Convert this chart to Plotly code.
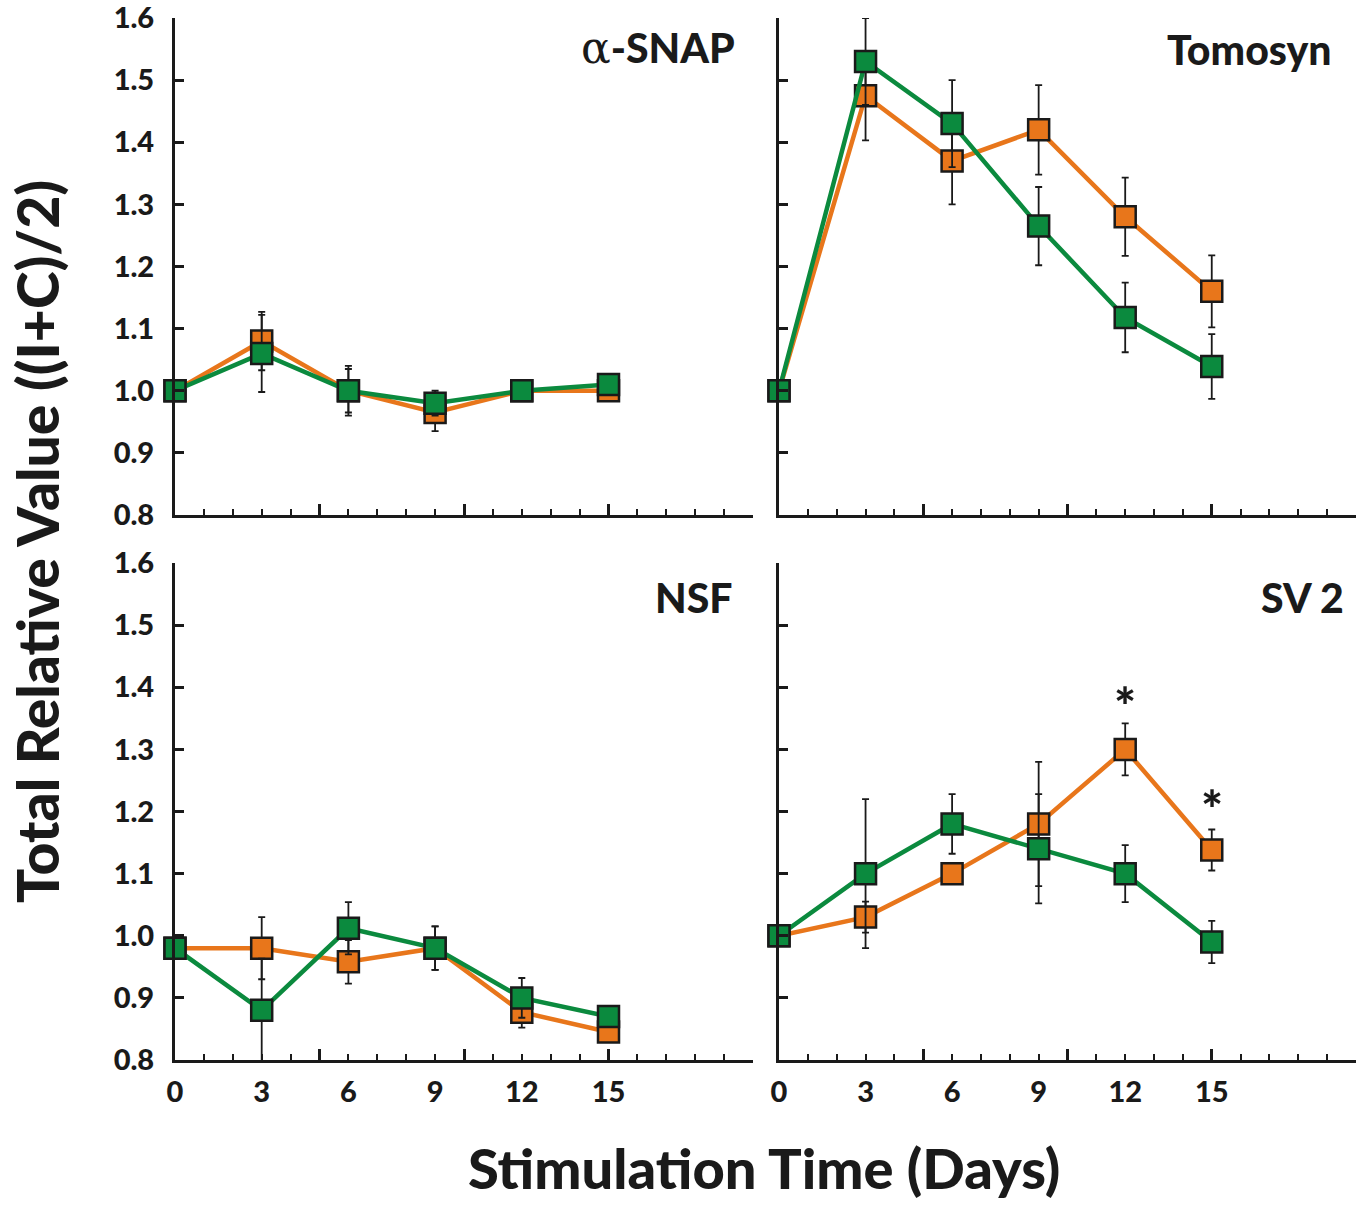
import plotly.graph_objects as go

# ---------------- data ----------------
days = [0, 3, 6, 9, 12, 15]
day_labels = ["0", "3", "6", "9", "12", "15"]
y_ticks = [0.8, 0.9, 1.0, 1.1, 1.2, 1.3, 1.4, 1.5, 1.6]

panel_names = ["<span style='font-family:DejaVu Serif;font-weight:normal;font-size:44px'>α</span>-SNAP",
               "Tomosyn", "NSF", "SV 2"]

snap_orange = [1.00, 1.08, 1.00, 0.965, 1.00, 1.00]
snap_orange_err = [0.0, 0.047, 0.04, 0.03, 0.0, 0.015]
snap_green = [1.00, 1.06, 1.00, 0.98, 1.00, 1.01]
snap_green_err = [0.0, 0.062, 0.035, 0.02, 0.0, 0.008]

tomo_orange = [1.00, 1.475, 1.37, 1.42, 1.28, 1.16]
tomo_orange_err = [0.0, 0.072, 0.07, 0.072, 0.063, 0.058]
tomo_green = [1.00, 1.53, 1.43, 1.265, 1.118, 1.039]
tomo_green_err = [0.0, 0.07, 0.07, 0.063, 0.056, 0.052]

nsf_orange = [0.98, 0.98, 0.958, 0.98, 0.877, 0.845]
nsf_orange_err = [0.0, 0.05, 0.035, 0.035, 0.025, 0.01]
nsf_green = [0.98, 0.88, 1.012, 0.98, 0.90, 0.87]
nsf_green_err = [0.0, 0.083, 0.042, 0.035, 0.032, 0.016]

sv2_orange = [1.00, 1.03, 1.10, 1.18, 1.30, 1.138]
sv2_orange_err = [0.0, 0.025, 0.0, 0.10, 0.042, 0.033]
sv2_green = [1.00, 1.10, 1.18, 1.14, 1.10, 0.99]
sv2_green_err = [0.0, 0.12, 0.048, 0.088, 0.046, 0.034]

sv2_star_x = [12, 15]
sv2_star_y = [1.372, 1.205]

ORANGE = "#E8761B"
GREEN = "#0B8A3E"
INK = "#1a1a1a"

panels = [
    (snap_orange, snap_orange_err, snap_green, snap_green_err),
    (tomo_orange, tomo_orange_err, tomo_green, tomo_green_err),
    (nsf_orange, nsf_orange_err, nsf_green, nsf_green_err),
    (sv2_orange, sv2_orange_err, sv2_green, sv2_green_err),
]

W, H = 1366, 1205
def px_x(p):
    return p / W
def px_y(p):
    return 1 - p / H

x_doms = [[px_x(175), px_x(753)], [px_x(779), px_x(1356)]]
y_doms = [[px_y(515), px_y(18)], [px_y(1060), px_y(563)]]

fig = go.Figure()
FONT = "Lato"

for i, (o, oe, g, ge) in enumerate(panels):
    n = i + 1
    xa = "x" if n == 1 else f"x{n}"
    ya = "y" if n == 1 else f"y{n}"
    for vals, errs, col in [(o, oe, ORANGE), (g, ge, GREEN)]:
        fig.add_trace(go.Scatter(
            x=days, y=vals, xaxis=xa, yaxis=ya, mode="lines+markers",
            line=dict(color=col, width=4.5),
            marker=dict(symbol="square", size=21, color=col,
                        line=dict(color=INK, width=2.5)),
            error_y=dict(type="data", array=errs, visible=True,
                         color=INK, thickness=1.8, width=3.5),
            cliponaxis=False, showlegend=False,
        ))

minor_vals = [d for d in range(1, 21) if d not in days]

layout = dict(width=W, height=H,
              margin=dict(l=0, r=0, t=0, b=0, pad=0, autoexpand=False),
              paper_bgcolor="white", plot_bgcolor="white", showlegend=False)

for i in range(4):
    n = i + 1
    r, c = divmod(i, 2)
    xk = "xaxis" if n == 1 else f"xaxis{n}"
    yk = "yaxis" if n == 1 else f"yaxis{n}"
    ya = "y" if n == 1 else f"y{n}"
    xa = "x" if n == 1 else f"x{n}"
    layout[xk] = dict(
        domain=x_doms[c], anchor=ya, range=[0, 20], automargin=False,
        showline=True, linecolor=INK, linewidth=3,
        showgrid=False, zeroline=False,
        ticks="inside", tickvals=days, ticktext=day_labels,
        ticklen=6, tickwidth=2, tickcolor=INK,
        minor=dict(tickvals=minor_vals, ticks="inside", ticklen=6,
                   tickwidth=2, tickcolor=INK, showgrid=False),
        showticklabels=(r == 1), ticklabeloverflow="allow",
        tickfont=dict(family=FONT, size=29, color=INK, weight=900),
        ticklabelstandoff=4,
    )
    layout[yk] = dict(
        domain=y_doms[r], anchor=xa, range=[0.8, 1.6], automargin=False,
        showline=True, linecolor=INK, linewidth=3,
        showgrid=False, zeroline=False,
        ticks="inside", tickvals=y_ticks, tickformat=".1f",
        ticklen=9, tickwidth=2.5, tickcolor=INK,
        showticklabels=(c == 0), ticklabeloverflow="allow",
        tickfont=dict(family=FONT, size=29, color=INK, weight=900),
        ticklabelstandoff=12,
    )
    on = n + 4
    layout[f"xaxis{on}"] = dict(
        overlaying=xa, anchor=ya, range=[0, 20], matches=xa, automargin=False,
        showline=False, showgrid=False, zeroline=False,
        ticks="inside", tickvals=[5, 10, 15, 20], ticklen=11, tickwidth=2.5,
        tickcolor=INK, showticklabels=False,
    )

fig.update_layout(**layout)

for i in range(4):
    n = i + 1
    ya = "y" if n == 1 else f"y{n}"
    fig.add_trace(go.Scatter(x=[0, 20], y=[0.8, 0.8], xaxis=f"x{n+4}", yaxis=ya,
                             mode="markers", marker=dict(opacity=0),
                             hoverinfo="skip", showlegend=False))

label_pos = [(0.972, 0.94), (0.962, 0.936), (0.969, 0.93), (0.982, 0.93)]
for i, name in enumerate(panel_names):
    n = i + 1
    xa = "x" if n == 1 else f"x{n}"
    ya = "y" if n == 1 else f"y{n}"
    fig.add_annotation(text=name, xref=f"{xa} domain", yref=f"{ya} domain",
                       x=label_pos[i][0], y=label_pos[i][1], xanchor="right",
                       yanchor="middle", showarrow=False,
                       font=dict(family=FONT, size=41, color=INK, weight=900))

for sx, sy in zip(sv2_star_x, sv2_star_y):
    fig.add_annotation(text="*", x=sx, y=sy, xref="x4", yref="y4", showarrow=False,
                       font=dict(family=FONT, size=52, color=INK, weight=900))

fig.add_annotation(text="Total Relative Value ((I+C)/2)", textangle=-90,
                   xref="paper", yref="paper", x=px_x(37), y=px_y(542),
                   xanchor="center", yanchor="middle", showarrow=False,
                   font=dict(family=FONT, size=57, color=INK, weight=900))
fig.add_annotation(text="Stimulation Time (Days)",
                   xref="paper", yref="paper", x=px_x(764), y=px_y(1167),
                   xanchor="center", yanchor="middle", showarrow=False,
                   font=dict(family=FONT, size=56, color=INK, weight=900))

fig.write_html("out.html", config={"responsive": False},
               post_script="document.body.style.margin='0';document.body.style.overflow='hidden';")
